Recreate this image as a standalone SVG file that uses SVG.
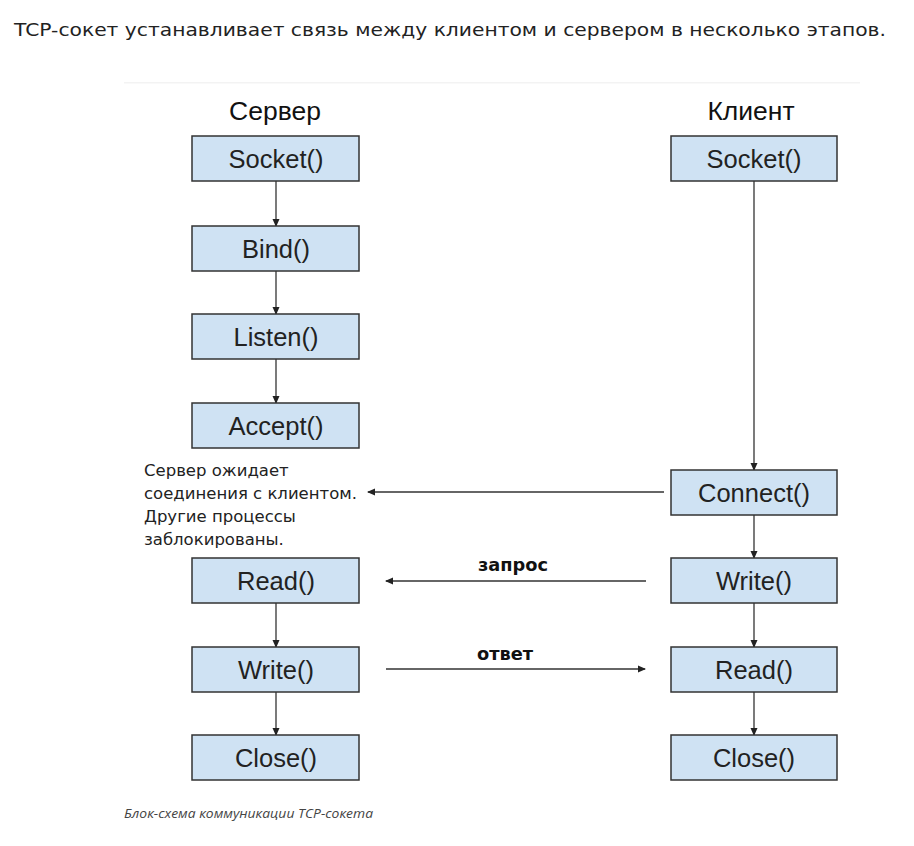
<svg xmlns="http://www.w3.org/2000/svg" width="914" height="846" viewBox="0 0 914 846">
<style>
.box{fill:#cfe2f3;stroke:#333;stroke-width:1.5}
.bt{font-family:"Liberation Sans",Arial,sans-serif;font-size:25.5px;fill:#222;text-anchor:middle}
.hd{font-family:"Liberation Sans",Arial,sans-serif;font-size:26.5px;fill:#111;text-anchor:middle}
.ln{stroke:#333;stroke-width:1.3;fill:none}
.note{font-family:"DejaVu Sans",Verdana,sans-serif;font-size:16.5px;fill:#222}
.lbl{font-family:"DejaVu Sans",Verdana,sans-serif;font-size:17.8px;font-weight:bold;fill:#111;text-anchor:middle}
</style>
<defs>
<marker id="ah" markerWidth="8" markerHeight="8" refX="7" refY="4" orient="auto" markerUnits="userSpaceOnUse">
<path d="M0,0.5 L8,4 L0,7.5 Z" fill="#222"/>
</marker>
</defs>
<rect width="914" height="846" fill="#fff"/>
<text x="14" y="36" font-family="DejaVu Sans,Verdana,sans-serif" font-size="18" fill="#222" textLength="872" lengthAdjust="spacingAndGlyphs">TCP-сокет устанавливает связь между клиентом и сервером в несколько этапов.</text>
<rect x="124" y="82" width="736" height="1.5" fill="#f3f3f3"/>
<text class="hd" x="275" y="120">Сервер</text>
<text class="hd" x="751" y="120">Клиент</text>
<g id="connectors">
<line class="ln" x1="276" y1="181" x2="276" y2="226" marker-end="url(#ah)"/>
<line class="ln" x1="276" y1="271" x2="276" y2="314" marker-end="url(#ah)"/>
<line class="ln" x1="276" y1="359" x2="276" y2="403" marker-end="url(#ah)"/>
<line class="ln" x1="276" y1="603" x2="276" y2="647" marker-end="url(#ah)"/>
<line class="ln" x1="276" y1="692" x2="276" y2="735" marker-end="url(#ah)"/>
<line class="ln" x1="754" y1="181" x2="754" y2="470" marker-end="url(#ah)"/>
<line class="ln" x1="754" y1="515" x2="754" y2="558" marker-end="url(#ah)"/>
<line class="ln" x1="754" y1="603" x2="754" y2="647" marker-end="url(#ah)"/>
<line class="ln" x1="754" y1="692" x2="754" y2="735" marker-end="url(#ah)"/>
<line class="ln" x1="664" y1="492" x2="368" y2="492" marker-end="url(#ah)"/>
<line class="ln" x1="646" y1="581" x2="386" y2="581" marker-end="url(#ah)"/>
<line class="ln" x1="386" y1="669" x2="645" y2="669" marker-end="url(#ah)"/>
<text class="lbl" x="513" y="571">запрос</text>
<text class="lbl" x="505" y="660">ответ</text>
</g>
<g id="s-socket"><rect class="box" x="192" y="136" width="167" height="45"/><text class="bt" x="276" y="168">Socket()</text></g>
<g id="s-bind"><rect class="box" x="192" y="226" width="167" height="45"/><text class="bt" x="276" y="258">Bind()</text></g>
<g id="s-listen"><rect class="box" x="192" y="314" width="167" height="45"/><text class="bt" x="276" y="346">Listen()</text></g>
<g id="s-accept"><rect class="box" x="192" y="403" width="167" height="45"/><text class="bt" x="276" y="435">Accept()</text></g>
<g id="s-note"><text class="note" x="144" y="476">Сервер ожидает</text><text class="note" x="144" y="499">соединения с клиентом.</text><text class="note" x="144" y="522">Другие процессы</text><text class="note" x="144" y="545">заблокированы.</text></g>
<g id="s-read"><rect class="box" x="192" y="558" width="167" height="45"/><text class="bt" x="276" y="590">Read()</text></g>
<g id="s-write"><rect class="box" x="192" y="647" width="167" height="45"/><text class="bt" x="276" y="679">Write()</text></g>
<g id="s-close"><rect class="box" x="192" y="735" width="167" height="45"/><text class="bt" x="276" y="767">Close()</text></g>
<g id="c-socket"><rect class="box" x="671" y="136" width="166" height="45"/><text class="bt" x="754" y="168">Socket()</text></g>
<g id="c-connect"><rect class="box" x="671" y="470" width="166" height="45"/><text class="bt" x="754" y="502">Connect()</text></g>
<g id="c-write"><rect class="box" x="671" y="558" width="166" height="45"/><text class="bt" x="754" y="590">Write()</text></g>
<g id="c-read"><rect class="box" x="671" y="647" width="166" height="45"/><text class="bt" x="754" y="679">Read()</text></g>
<g id="c-close"><rect class="box" x="671" y="735" width="166" height="45"/><text class="bt" x="754" y="767">Close()</text></g>
<text x="124" y="818" font-family="Open Sans,DejaVu Sans,sans-serif" font-size="13.5" font-style="italic" fill="#444" textLength="249" lengthAdjust="spacingAndGlyphs">Блок-схема коммуникации TCP-сокета</text>
</svg>
